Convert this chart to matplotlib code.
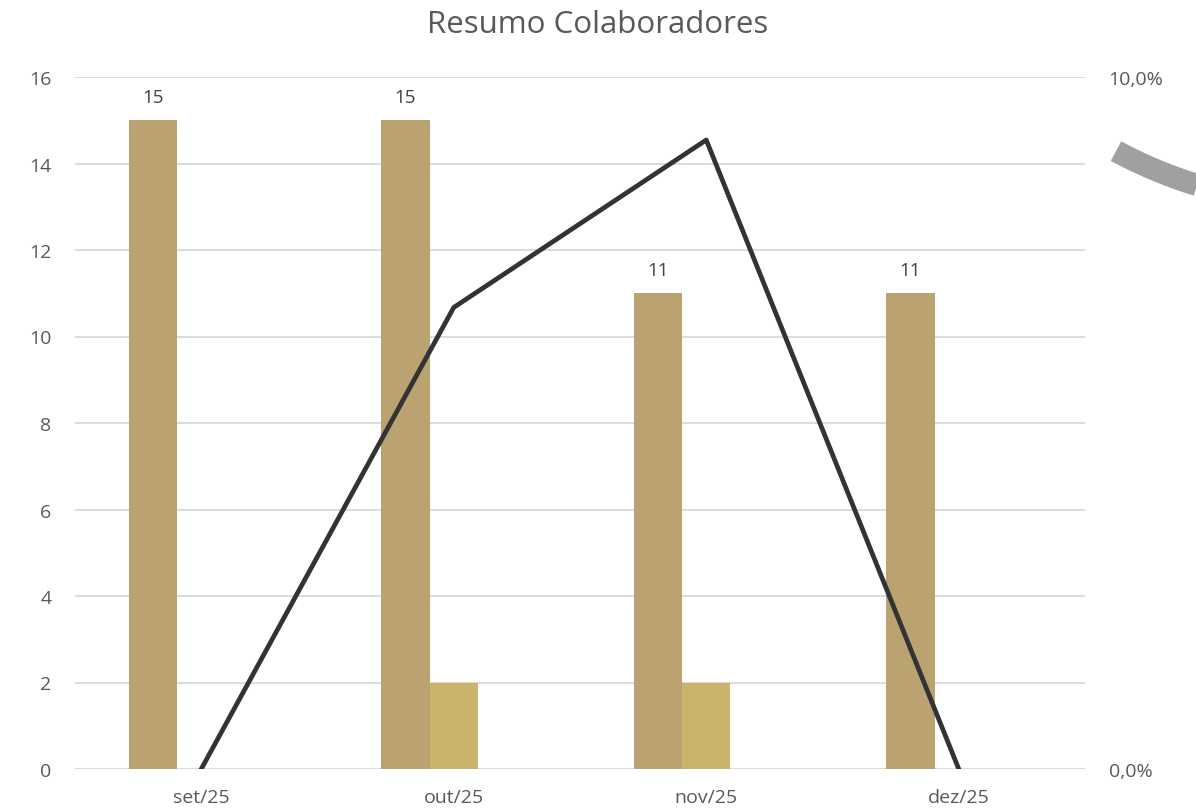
import numpy as np
import matplotlib
matplotlib.use("Agg")
import matplotlib.pyplot as plt
from matplotlib.ticker import FuncFormatter

# data
meses = ["set/25", "out/25", "nov/25", "dez/25"]
colaboradores = [15, 15, 11, 11]
serie2 = [0, 2, 2, 0]
serie3 = [0, 0, 0, 0]
taxa = [0.0, 0.0667, 0.0909, 0.0]  # fraction, right axis

plt.rcParams['font.family'] = ['Open Sans', 'DejaVu Sans']
txt = "#595959"

fig = plt.figure(figsize=(11.96, 8.12), dpi=100)
ax = fig.add_axes([75 / 1196, 1 - 770 / 812, 1010 / 1196, 692 / 812])

x = np.arange(len(meses))
w = 0.192
b1 = ax.bar(x - w, colaboradores, w, color="#BAA371", zorder=2)
ax.bar(x, serie2, w, color="#CBB36C", zorder=2)
ax.bar(x + w, serie3, w, color="#A89060", zorder=2)

for rect, v in zip(b1, colaboradores):
    ax.annotate(str(v), (rect.get_x() + rect.get_width() / 2, v),
                xytext=(0, 14), textcoords="offset pixels",
                ha="center", va="bottom", fontsize=13.5, color="#404040")

ax.set_xlim(-0.5, len(meses) - 0.5)
ax.set_ylim(0, 16)
ax.set_yticks(range(0, 17, 2))
ax.set_xticks(x)
ax.set_xticklabels(meses)
ax.grid(axis="y", color="#D9D9D9", linewidth=1.3, zorder=0)
for s in ax.spines.values():
    s.set_visible(False)
ax.tick_params(length=0, labelsize=14, labelcolor=txt)
ax.tick_params(axis="y", pad=17)
ax.tick_params(axis="x", pad=14)

ax2 = ax.twinx()
ax2.plot(x, taxa, color="#333333", linewidth=3.4, zorder=3)
ax2.set_ylim(0, 0.1)
ax2.set_yticks([0, 0.1])
ax2.yaxis.set_major_formatter(FuncFormatter(lambda v, p: f"{v * 100:.1f}%".replace(".", ",")))
for s in ax2.spines.values():
    s.set_visible(False)
ax2.tick_params(length=0, labelsize=14, labelcolor=txt, pad=17)

fig.text(0.5, 1 - 25 / 812, "Resumo Colaboradores", ha="center", va="center",
         fontsize=22.5, color=txt)

# gray arc decoration at the right edge
deco = fig.add_axes([0, 0, 1, 1], zorder=-1)
deco.set_xlim(0, 1196)
deco.set_ylim(812, 0)
deco.axis("off")
cx, cy, r = 1330, -246, 452
a = np.linspace(np.arctan2(400, -215), np.arctan2(400, -60), 50)
deco.plot(cx + r * np.cos(a), cy + r * np.sin(a), color="#A0A0A0",
          linewidth=16, solid_capstyle="butt")

fig.savefig("out.png", dpi=100)
